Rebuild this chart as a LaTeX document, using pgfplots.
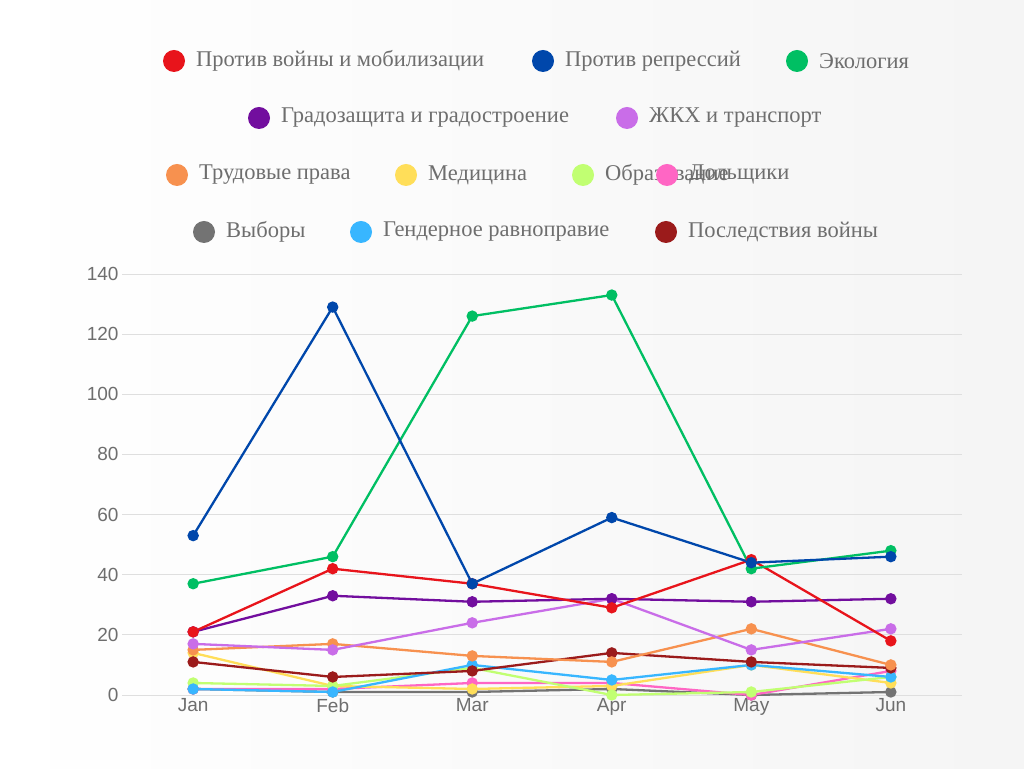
\documentclass[border=0pt]{standalone}
\usepackage{pgfplots}
\pgfplotsset{compat=1.18}
\usepackage{fontspec}
\setmainfont{Liberation Serif}
\newfontfamily\tickfont{Liberation Sans}
\definecolor{c1}{HTML}{E8141B}
\definecolor{c2}{HTML}{0047AB}
\definecolor{c3}{HTML}{00BF63}
\definecolor{c4}{HTML}{720E9E}
\definecolor{c5}{HTML}{C96DE8}
\definecolor{c6}{HTML}{F7914F}
\definecolor{c7}{HTML}{FFDE59}
\definecolor{c8}{HTML}{C1FF72}
\definecolor{c9}{HTML}{FF66C4}
\definecolor{c10}{HTML}{737373}
\definecolor{c11}{HTML}{38B6FF}
\definecolor{c12}{HTML}{9B1B1B}
\definecolor{txt}{HTML}{6E6E6E}
\begin{document}
\begin{tikzpicture}[x=1pt,y=1pt]
\useasboundingbox (0pt,0pt) rectangle (1024pt,768pt);
\shade[left color=white,right color=gray!8] (0pt,0pt) rectangle (1024pt,768pt);
\begin{axis}[at={(122pt,73pt)},anchor=south west,scale only axis,width=840pt,height=421pt,
 xmin=-0.51,xmax=5.51,ymin=0,ymax=140,
 axis line style={draw=none},ymajorgrids,grid style={gray!25,line width=0.8pt},
 major tick length=0pt,
 xtick={0,...,5},xticklabels={Jan,Feb,Mar,Apr,May,Jun},
 ytick={0,20,...,140},
 ticklabel style={font=\tickfont\fontsize{19}{19}\selectfont,text=txt},
 /pgf/number format/assume math mode=true,
 every axis plot/.append style={line width=2.3pt,mark=*,mark size=4.5pt},
 clip=false]
\addplot[c10,mark options={fill=c10}] coordinates {(0,2)(1,1)(2,1)(3,2)(4,0)(5,1)};
\addplot[c9,mark options={fill=c9}] coordinates {(0,2)(1,2)(2,4)(3,4)(4,0)(5,8)};
\addplot[c7,mark options={fill=c7}] coordinates {(0,14)(1,3)(2,2)(3,3)(4,10)(5,4)};
\addplot[c8,mark options={fill=c8}] coordinates {(0,4)(1,3)(2,9)(3,0)(4,1)(5,6)};
\addplot[c11,mark options={fill=c11}] coordinates {(0,2)(1,1)(2,10)(3,5)(4,10)(5,6)};
\addplot[c12,mark options={fill=c12}] coordinates {(0,11)(1,6)(2,8)(3,14)(4,11)(5,9)};
\addplot[c6,mark options={fill=c6}] coordinates {(0,15)(1,17)(2,13)(3,11)(4,22)(5,10)};
\addplot[c5,mark options={fill=c5}] coordinates {(0,17)(1,15)(2,24)(3,32)(4,15)(5,22)};
\addplot[c4,mark options={fill=c4}] coordinates {(0,21)(1,33)(2,31)(3,32)(4,31)(5,32)};
\addplot[c1,mark options={fill=c1}] coordinates {(0,21)(1,42)(2,37)(3,29)(4,45)(5,18)};
\addplot[c3,mark options={fill=c3}] coordinates {(0,37)(1,46)(2,126)(3,133)(4,42)(5,48)};
\addplot[c2,mark options={fill=c2}] coordinates {(0,53)(1,129)(2,37)(3,59)(4,44)(5,46)};
\end{axis}
\tikzset{lg/.style={anchor=west,text=txt,font=\fontsize{22.5}{22.5}\selectfont,inner sep=0pt}}
\foreach \x/\y/\c/\t in {174/707/c1/{Против войны и мобилизации},543/707/c2/{Против репрессий},797/707/c3/{Экология},
 259/650/c4/{Градозащита и градостроение},627/650/c5/{ЖКХ и транспорт},
 177/593/c6/{Трудовые права},406/593/c7/{Медицина},583/593/c8/{Образование},667/593/c9/{Дольщики},
 204/536/c10/{Выборы},361/536/c11/{Гендерное равноправие},666/536/c12/{Последствия войны}}
 {\fill[\c] (\x pt,\y pt) circle (11pt); \node[lg] at (\x pt+22pt,\y pt) {\t};}
\end{tikzpicture}
\end{document}
